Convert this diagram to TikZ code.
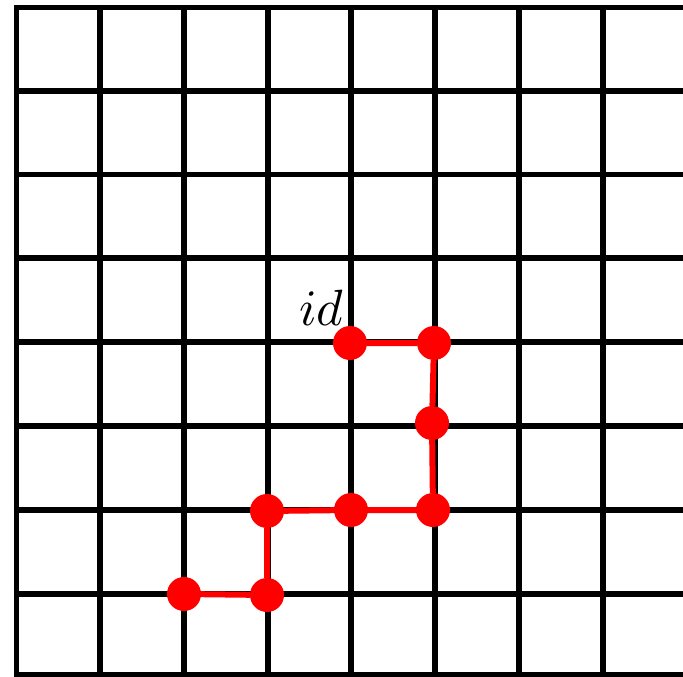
\documentclass[tikz,border=0pt]{standalone}
\begin{document}
\begin{tikzpicture}[x=1pt,y=-1pt,
  gridline/.style={line width=5.5pt,black},
  dot/.style={circle,fill=red,inner sep=0pt,minimum size=34pt},
  path/.style={red,line width=6pt}]
\useasboundingbox (0,0) rectangle (683,677);
\clip (0,0) rectangle (683,677);
\foreach \x in {16.5,100,184,268,351,435,519,603}
  \draw[gridline] (\x,4.75) -- (\x,678);
\foreach \y in {7.5,90.8,174.5,258,342,426,510,594,675}
  \draw[gridline] (13.75,\y) -- (690,\y);
\node[dot] (p1) at (350,343) {};
\node[dot] (p2) at (434,343) {};
\node[dot] (p3) at (432,423) {};
\node[dot] (p4) at (433,510) {};
\node[dot] (p5) at (351,510) {};
\node[dot] (p6) at (267,511) {};
\node[dot] (p7) at (267,595) {};
\node[dot] (p8) at (184,594) {};
\draw[path] (p1) -- (p2) -- (p3) -- (p4) -- (p5) -- (p6) -- (p7) -- (p8);
\node[anchor=base,inner sep=0pt] (lbl) at (321.5,325) {\scalebox{5.1}{$id$}};
\end{tikzpicture}
\end{document}
